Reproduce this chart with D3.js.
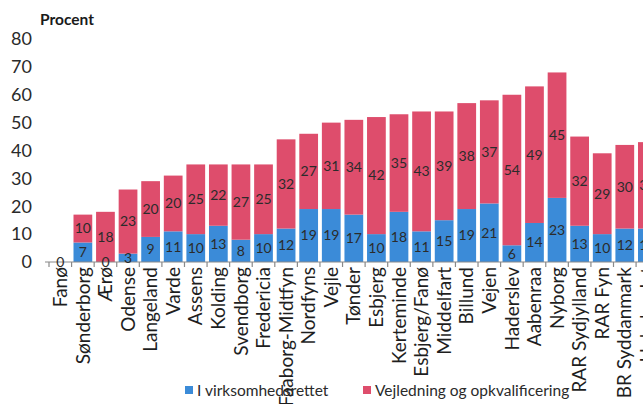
<!DOCTYPE html>
<html><head><meta charset="utf-8">
<script src="https://cdn.jsdelivr.net/npm/d3@7"></script>
<style>
html,body{margin:0;padding:0;background:#fff;overflow:hidden;}
svg{display:block;font-family:Lato,"Open Sans",sans-serif;}
</style></head>
<body>
<script>
const categories = ["Fanø","Sønderborg","Ærø","Odense","Langeland","Varde","Assens","Kolding","Svendborg","Fredericia","Faaborg-Midtfyn","Nordfyns","Vejle","Tønder","Esbjerg","Kerteminde","Esbjerg/Fanø","Middelfart","Billund","Vejen","Haderslev","Aabenraa","Nyborg","RAR Sydjylland","RAR Fyn","BR Syddanmark","Hele landet"];
const virksomhed = [0,7,0,3,9,11,10,13,8,10,12,19,19,17,10,18,11,15,19,21,6,14,23,13,10,12,12];
const vejledning = [null,10,18,23,20,20,25,22,27,25,32,27,31,34,42,35,43,39,38,37,54,49,45,32,29,30,31];
const yTicks = [0,10,20,30,40,50,60,70,80];
const seriesNames = ["I virksomhedsrettet","Vejledning og opkvalificering"];
const colors = ["#3b8bd8","#de4d6c"];

const W = 700, H = 404;
const svg = d3.select("body").append("svg").attr("width", W).attr("height", H);

const x = d3.scaleBand().domain(categories).range([49, 49 + 22.58 * categories.length]).paddingInner(0.17).paddingOuter(0.085);
const y = d3.scaleLinear().domain([0, 80]).range([262, 39]);

const data = categories.map((c, i) => ({c, a: virksomhed[i], b: vejledning[i] || 0, showB: vejledning[i] !== null}));

// y tick labels
svg.append("g").selectAll("text").data(yTicks).join("text")
  .attr("x", 32).attr("y", d => y(d)).attr("dy", "0.35em")
  .attr("text-anchor", "end").attr("font-size", 18).attr("fill", "#2a2a2a")
  .text(d => d);

svg.append("text").attr("x", 40).attr("y", 25).attr("font-size", 15.5).attr("font-weight", "bold").attr("fill", "#1a1a1a").text("Procent");

// bars
const g = svg.append("g");
g.selectAll("rect.a").data(data).join("rect")
  .attr("x", d => x(d.c)).attr("width", x.bandwidth())
  .attr("y", d => y(d.a)).attr("height", d => y(0) - y(d.a)).attr("fill", colors[0]);
g.selectAll("rect.b").data(data).join("rect")
  .attr("x", d => x(d.c)).attr("width", x.bandwidth())
  .attr("y", d => y(d.a + d.b)).attr("height", d => y(d.a) - y(d.a + d.b)).attr("fill", colors[1]);

// x axis
const axis = svg.append("g").attr("transform", "translate(0,262)");
const bounds = categories.map(c => x(c) - x.step() * x.paddingInner() / 2);
axis.append("line").attr("x1", 45).attr("x2", W).attr("stroke", "#8a8a8a").attr("stroke-width", 1.2);
axis.selectAll("line.t").data(bounds).join("line")
  .attr("x1", d => d).attr("x2", d => d).attr("y1", 0).attr("y2", 5)
  .attr("stroke", "#8a8a8a").attr("stroke-width", 1.2);

// value labels
const lbl = svg.append("g").attr("font-size", 14).attr("fill", "#2b2b2b").attr("text-anchor", "middle");
lbl.selectAll("text.a").data(data).join("text")
  .attr("x", d => x(d.c) + x.bandwidth() / 2)
  .attr("y", d => (y(0) + y(d.a)) / 2).attr("dy", "0.35em").text(d => d.a);
lbl.selectAll("text.b").data(data.filter(d => d.showB)).join("text")
  .attr("x", d => x(d.c) + x.bandwidth() / 2)
  .attr("y", d => (y(d.a) + y(d.a + d.b)) / 2).attr("dy", "0.35em").text(d => d.b);

// category labels
svg.append("g").attr("font-size", 19).attr("fill", "#1e1e1e").selectAll("text").data(categories).join("text")
  .attr("transform", c => `translate(${x(c) + x.bandwidth() / 2},267) rotate(-90)`)
  .attr("text-anchor", "end").attr("dy", "0.35em").text(c => c);

// legend
const leg = svg.append("g").attr("font-size", 15.5).attr("fill", "#2a2a2a");
const legX = [185, 363];
seriesNames.forEach((s, i) => {
  leg.append("rect").attr("x", legX[i]).attr("y", 386).attr("width", 8).attr("height", 8).attr("fill", colors[i]);
  leg.append("text").attr("x", legX[i] + 12).attr("y", 396).text(s);
});
</script>
</body></html>
